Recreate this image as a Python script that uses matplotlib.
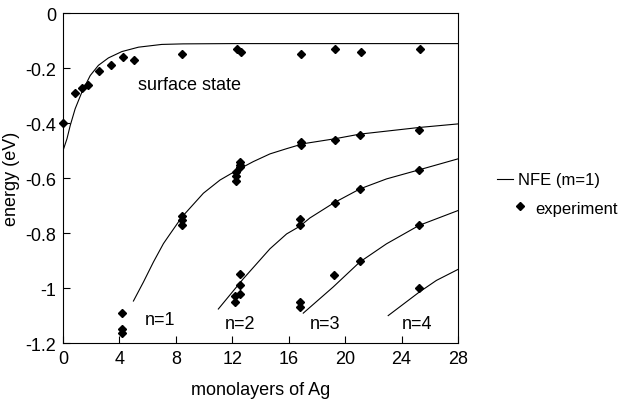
import matplotlib
matplotlib.use("Agg")
import matplotlib.pyplot as plt
from matplotlib.lines import Line2D

plt.rcParams["font.family"] = ["Liberation Sans", "DejaVu Sans"]

# ---------- Data ----------
# experiment points
surf_x = [0.0, 0.86, 1.34, 1.74, 2.54, 3.41, 4.26, 5.06, 8.46, 12.3, 12.6, 16.9, 19.3, 21.1, 25.3]
surf_y = [-0.40, -0.29, -0.272, -0.26, -0.21, -0.188, -0.16, -0.17, -0.15, -0.13, -0.14, -0.15, -0.132, -0.142, -0.13]

n1_x = [4.17, 4.17, 4.17, 8.42, 8.42, 8.42, 12.26, 12.26, 12.26, 12.57, 12.57, 12.57,
        16.86, 16.86, 19.27, 21.06, 25.24]
n1_y = [-1.09, -1.148, -1.163, -0.738, -0.754, -0.770, -0.578, -0.593, -0.611, -0.540, -0.552, -0.561,
        -0.469, -0.479, -0.461, -0.443, -0.424]

n2_x = [12.55, 12.55, 12.55, 12.19, 12.19, 16.79, 16.79, 19.25, 21.06, 25.24]
n2_y = [-0.948, -0.99, -1.02, -1.029, -1.051, -0.748, -0.77, -0.69, -0.64, -0.572]

n3_x = [16.79, 16.79, 19.22, 21.04, 25.24]
n3_y = [-1.051, -1.069, -0.952, -0.902, -0.772]

n4_x = [25.24]
n4_y = [-1.0]

# NFE (m=1) curves
nfe_s_x = [0.0, 0.28, 0.51, 0.86, 1.34, 1.93, 2.51, 3.22, 4.17, 5.35, 7.0, 8.5, 12.0, 16.0, 20.0, 24.0, 28.0]
nfe_s_y = [-0.50, -0.457, -0.409, -0.348, -0.287, -0.227, -0.19, -0.163, -0.14, -0.124, -0.114,
           -0.112, -0.111, -0.111, -0.111, -0.111, -0.111]

nfe1_x = [4.99, 5.70, 6.41, 7.12, 7.59, 8.42, 9.95, 11.13, 12.31, 13.49, 14.67, 15.85, 17.03,
          19.27, 21.06, 25.24, 28.0]
nfe1_y = [-1.047, -0.978, -0.905, -0.838, -0.803, -0.742, -0.655, -0.607, -0.572, -0.54, -0.512,
          -0.493, -0.475, -0.457, -0.44, -0.416, -0.403]

nfe2_x = [11.01, 12.78, 14.67, 15.85, 16.79, 17.5, 19.2, 21.06, 22.93, 25.24, 28.0]
nfe2_y = [-1.076, -0.966, -0.857, -0.803, -0.775, -0.745, -0.69, -0.639, -0.603, -0.57, -0.53]

nfe3_x = [17.03, 19.15, 21.04, 22.93, 25.24, 28.0]
nfe3_y = [-1.091, -0.996, -0.905, -0.839, -0.772, -0.718]

nfe4_x = [23.05, 25.24, 26.47, 28.0]
nfe4_y = [-1.1, -1.015, -0.972, -0.932]

x_ticks = [0, 4, 8, 12, 16, 20, 24, 28]
y_ticks = [0, -0.2, -0.4, -0.6, -0.8, -1.0, -1.2]
y_ticklabels = ["0", "-0.2", "-0.4", "-0.6", "-0.8", "-1", "-1.2"]

# ---------- Plot ----------
fig = plt.figure(figsize=(6.24, 4.02), dpi=100)
ax = fig.add_axes([0.101, 0.144, 0.633, 0.821])

for cx, cy in [(nfe_s_x, nfe_s_y), (nfe1_x, nfe1_y), (nfe2_x, nfe2_y),
               (nfe3_x, nfe3_y), (nfe4_x, nfe4_y)]:
    ax.plot(cx, cy, color="black", linewidth=0.8)

for px, py in [(surf_x, surf_y), (n1_x, n1_y), (n2_x, n2_y), (n3_x, n3_y), (n4_x, n4_y)]:
    ax.plot(px, py, linestyle="none", marker="D", markersize=4.5,
            color="black", clip_on=False)

ax.set_xlim(0, 28)
ax.set_ylim(-1.2, 0)
ax.set_xticks(x_ticks)
ax.set_yticks(y_ticks)
ax.set_yticklabels(y_ticklabels)
ax.tick_params(direction="in", length=5, width=0.8, labelsize=13, pad=5)
for sp in ax.spines.values():
    sp.set_linewidth(0.8)

ax.set_xlabel("monolayers of Ag", fontsize=13, labelpad=10)
ax.set_ylabel("energy (eV)", fontsize=13, labelpad=4)

ax.text(5.3, -0.26, "surface state", fontsize=13, va="center")
ax.text(5.8, -1.115, "n=1", fontsize=13, va="center")
ax.text(11.5, -1.127, "n=2", fontsize=13, va="center")
ax.text(17.5, -1.13, "n=3", fontsize=13, va="center")
ax.text(24.0, -1.13, "n=4", fontsize=13, va="center")

# legend drawn by hand to the right of the axes
fig.add_artist(Line2D([497 / 624, 513 / 624], [1 - 180 / 402, 1 - 180 / 402],
                      color="black", linewidth=0.8))
fig.text(518 / 624, 1 - 181 / 402, "NFE (m=1)", fontsize=12, va="center")
fig.add_artist(Line2D([520 / 624], [1 - 207 / 402], marker="D", markersize=4,
                      color="black", linestyle="none"))
fig.text(535 / 624, 1 - 210 / 402, "experiment", fontsize=12, va="center")

fig.savefig("out.png", dpi=100)
